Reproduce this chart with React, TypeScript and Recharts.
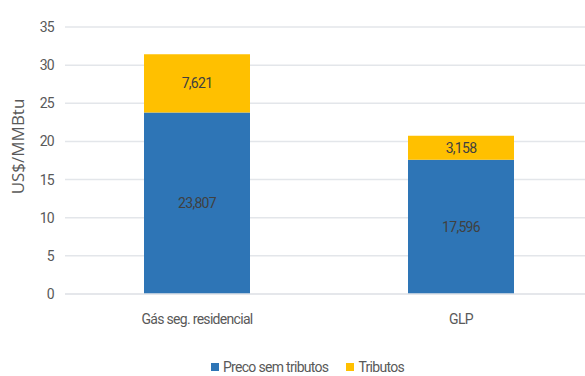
import React from 'react';
import {
  BarChart,
  Bar,
  XAxis,
  YAxis,
  CartesianGrid,
  Legend,
  LabelList
} from 'recharts';

const categories = ['Gás seg. residencial', 'GLP'];
const precoSemTributos = [23.807, 17.596];
const tributos = [7.621, 3.158];
const yTicks = [0, 5, 10, 15, 20, 25, 30, 35];

const data = categories.map((name, i) => ({
  name,
  preco: precoSemTributos[i],
  tributos: tributos[i]
}));

const fmt = (v: any) => Number(v).toFixed(3).replace('.', ',');

const font = 'Roboto, sans-serif';
const narrow = { fontFamily: font, fontSize: 14, letterSpacing: -0.7 };

const LegendContent = () => (
  <div
    style={{
      display: 'flex',
      justifyContent: 'center',
      gap: 18,
      paddingLeft: 22,
      ...narrow,
      color: '#595959'
    }}
  >
    <span style={{ display: 'flex', alignItems: 'center' }}>
      <span style={{ width: 8, height: 8, background: '#2E75B6', marginRight: 4 }} />
      Preco sem tributos
    </span>
    <span style={{ display: 'flex', alignItems: 'center' }}>
      <span style={{ width: 8, height: 8, background: '#FFC000', marginRight: 4 }} />
      Tributos
    </span>
  </div>
);

const App: React.FC = () => {
  return (
    <div
      style={{
        position: 'absolute',
        left: 0,
        top: 0,
        width: 585,
        height: 376,
        overflow: 'hidden',
        background: '#fff'
      }}
    >
      <BarChart
        width={593}
        height={376}
        data={data}
        margin={{ top: 27, right: 0, left: 0, bottom: 42 }}
      >
        <CartesianGrid vertical={false} stroke="#E3E6EA" strokeWidth={1.5} />
        <XAxis
          dataKey="name"
          axisLine={{ stroke: '#E3E6EA', strokeWidth: 1.5 }}
          tickLine={false}
          tickSize={0}
          tickMargin={20}
          height={40}
          tick={{ fill: '#595959', ...narrow }}
        />
        <YAxis
          width={65}
          domain={[0, 35]}
          ticks={yTicks}
          axisLine={false}
          tickLine={false}
          tickSize={0}
          tickMargin={11}
          tick={{ fill: '#595959', ...narrow }}
          label={{
            value: 'US$/MMBtu',
            angle: -90,
            position: 'insideLeft',
            dx: 13,
            dy: -14,
            style: {
              textAnchor: 'middle',
              fill: '#595959',
              fontSize: 17,
              fontFamily: '"Open Sans", sans-serif'
            }
          }}
        />
        <Legend
          layout="horizontal"
          verticalAlign="middle"
          align="center"
          wrapperStyle={{ top: 359, left: 0, width: 593 }}
          content={<LegendContent />}
        />
        <Bar dataKey="preco" stackId="a" fill="#2E75B6" barSize={106} isAnimationActive={false}>
          <LabelList
            dataKey="preco"
            position="center"
            formatter={fmt}
            style={{ fill: '#404040', ...narrow }}
          />
        </Bar>
        <Bar dataKey="tributos" stackId="a" fill="#FFC000" barSize={106} isAnimationActive={false}>
          <LabelList
            dataKey="tributos"
            position="center"
            formatter={fmt}
            style={{ fill: '#404040', ...narrow }}
          />
        </Bar>
      </BarChart>
    </div>
  );
};

export default App;
